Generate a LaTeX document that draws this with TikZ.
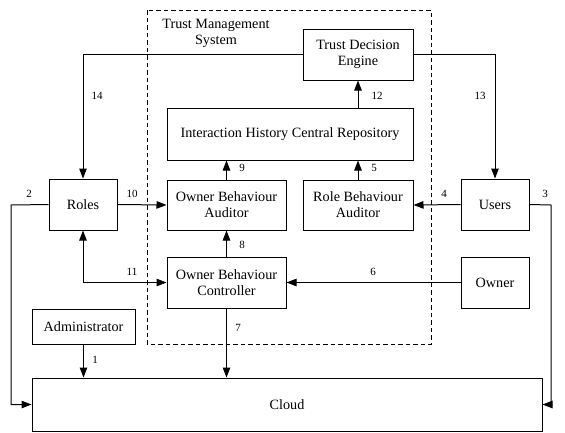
\documentclass[tikz,border=0pt]{standalone}
\usepackage{fontspec}
\setmainfont{Liberation Serif}
\usetikzlibrary{arrows.meta}
\begin{document}
\begin{tikzpicture}[x=1pt,y=-1pt,
  box/.style={draw,line width=1pt,minimum width=#1,inner sep=0pt,align=center,font=\fontsize{14.2}{16}\selectfont},
  tip/.tip={Triangle[length=10pt,width=7.5pt]},
  conn/.style={line width=1pt,-tip},
  lbl/.style={font=\fontsize{11}{12}\selectfont,inner sep=0pt}]
\useasboundingbox (0,0) rectangle (565,432);
% dashed system box
\draw[line width=0.9pt,dash pattern=on 4.5pt off 3pt] (147,10) rectangle (431,344);
\node[align=center,font=\fontsize{14.2}{16}\selectfont,inner sep=0pt] (tms) at (216,33.5) {Trust Management\\System};
% boxes
\node[box=110pt,minimum height=51pt] (tde) at (358,54.5) {Trust Decision\\Engine};
\node[box=246pt,minimum height=52pt] (ihcr) at (290,134) {Interaction History Central Repository};
\node[box=119pt,minimum height=50pt] (oba) at (226.5,205) {Owner Behaviour\\Auditor};
\node[box=110pt,minimum height=50pt] (rba) at (358,205) {Role Behaviour\\Auditor};
\node[box=119pt,minimum height=51pt] (obc) at (226.5,282.5) {Owner Behaviour\\Controller};
\node[box=68pt,minimum height=51pt] (roles) at (83,204.5) {Roles};
\node[box=68pt,minimum height=51pt] (users) at (495,204.5) {Users};
\node[box=68pt,minimum height=51pt] (owner) at (495,282.5) {Owner};
\node[box=103pt,minimum height=35pt] (admin) at (83.5,326.5) {Administrator};
\node[box=510pt,minimum height=53pt] (cloud) at (287,404.5) {Cloud};
% connectors
\draw[conn] (tde.west) -| (roles.north);
\node[lbl] (l14) at (97,96) {14};
\draw[conn] (tde.east) -| (users.north);
\node[lbl] (l13) at (480,96) {13};
\draw[conn] (ihcr.north -| tde) -- (tde.south);
\node[lbl] (l12) at (377,96) {12};
\draw[conn] (oba.north) -- (oba.north |- ihcr.south);
\node[lbl] (l9) at (242,168) {9};
\draw[conn] (rba.north) -- (rba.north |- ihcr.south);
\node[lbl] (l5) at (374,168) {5};
\draw[conn] (roles.east) -- (oba.west);
\node[lbl] (l10) at (132,194) {10};
\draw[conn] (users.west) -- (rba.east);
\node[lbl] (l4) at (444,194) {4};
\coordinate (c2) at (11,205);
\coordinate (c3) at (551,205);
\draw[conn] (roles.west) -- (c2) |- (cloud.west);
\node[lbl] (l2) at (29,194) {2};
\draw[conn] (users.east) -- (c3) |- (cloud.east);
\node[lbl] (l3) at (545,194) {3};
\draw[conn] (obc.north) -- (oba.south);
\node[lbl] (l8) at (242,245) {8};
\draw[conn,tip-tip] (roles.south) |- (obc.west);
\node[lbl] (l11) at (132,272) {11};
\draw[conn] (owner.west) -- (obc.east);
\node[lbl] (l6) at (373,272) {6};
\draw[conn] (obc.south) -- (obc.south |- cloud.north);
\node[lbl] (l7) at (238,328) {7};
\draw[conn] (admin.south) -- (admin.south |- cloud.north);
\node[lbl] (l1) at (95,360) {1};
\end{tikzpicture}
\end{document}
